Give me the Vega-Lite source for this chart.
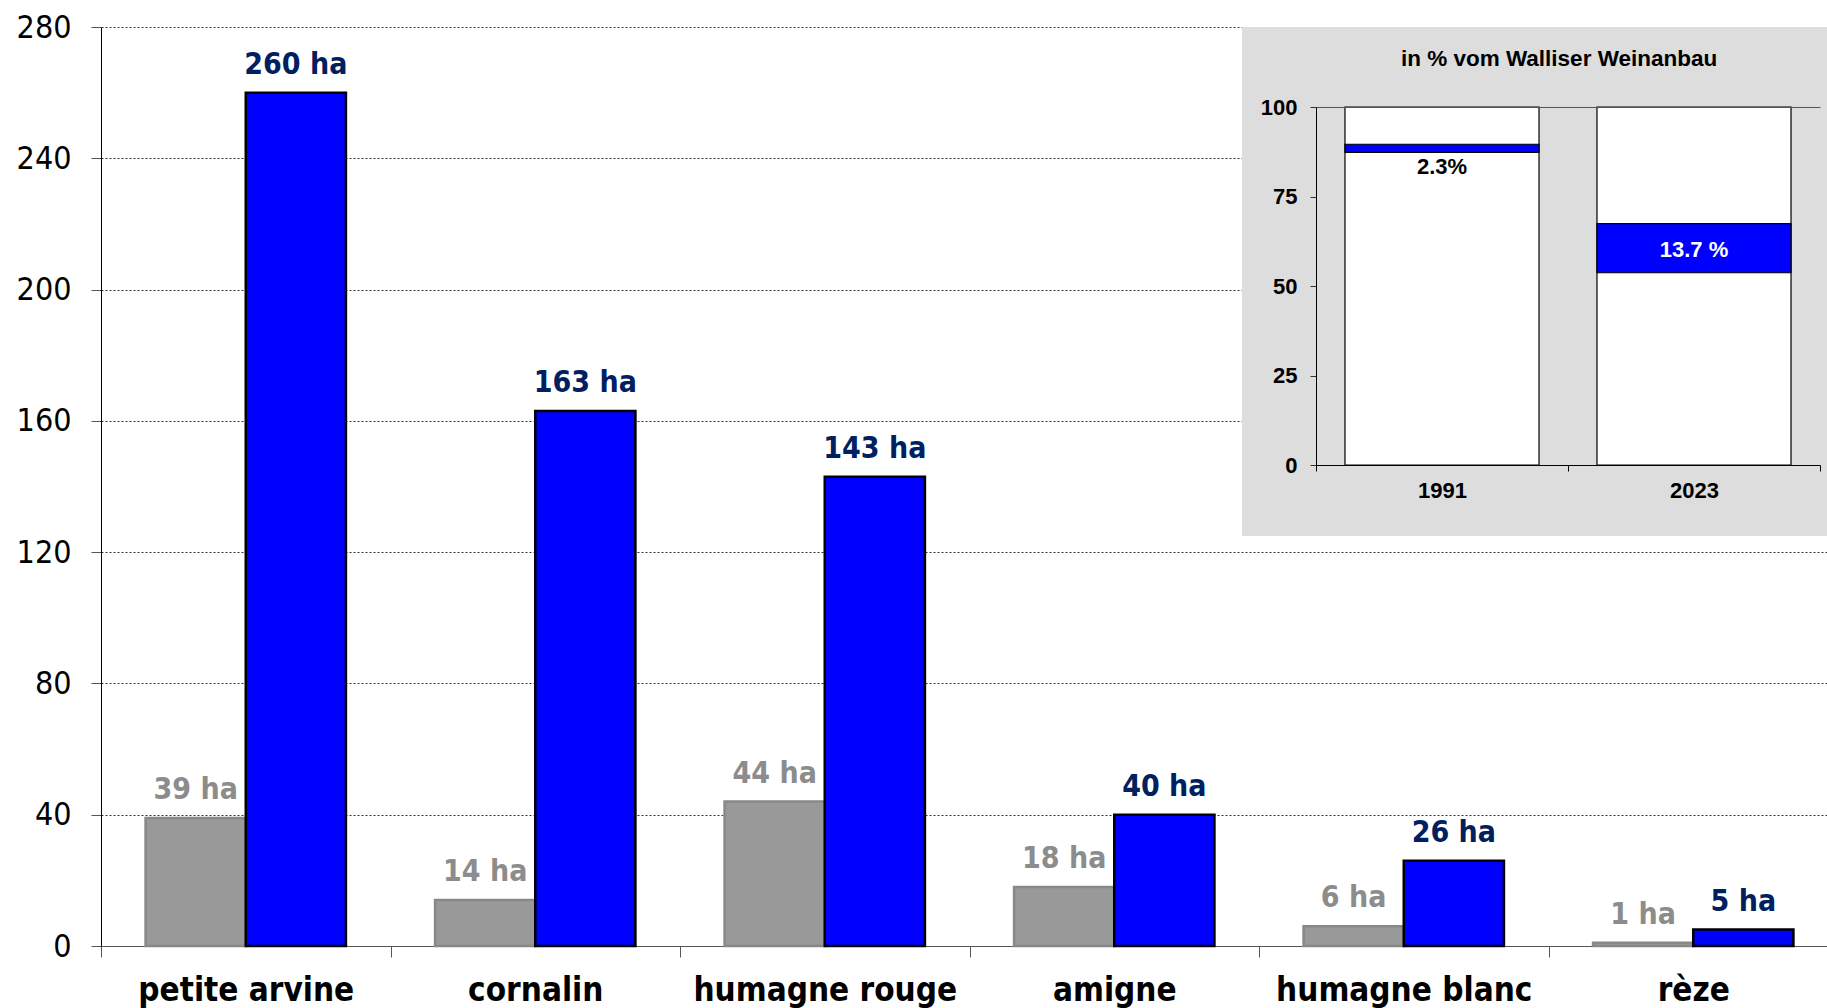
{
  "$schema": "https://vega.github.io/schema/vega-lite/v6.json",
  "width": 1726,
  "height": 919,
  "autosize": {"type": "none"},
  "padding": {"left": 101, "top": 27, "right": 0, "bottom": 62},
  "background": "white",
  "config": {"view": {"stroke": null}},
  "datasets": {
    "area": [
      {"variety": "petite arvine", "year": "1991", "ha": 39, "label": "39 ha"},
      {"variety": "petite arvine", "year": "2023", "ha": 260, "label": "260 ha"},
      {"variety": "cornalin", "year": "1991", "ha": 14, "label": "14 ha"},
      {"variety": "cornalin", "year": "2023", "ha": 163, "label": "163 ha"},
      {"variety": "humagne rouge", "year": "1991", "ha": 44, "label": "44 ha"},
      {"variety": "humagne rouge", "year": "2023", "ha": 143, "label": "143 ha"},
      {"variety": "amigne", "year": "1991", "ha": 18, "label": "18 ha"},
      {"variety": "amigne", "year": "2023", "ha": 40, "label": "40 ha"},
      {"variety": "humagne blanc", "year": "1991", "ha": 6, "label": "6 ha"},
      {"variety": "humagne blanc", "year": "2023", "ha": 26, "label": "26 ha"},
      {"variety": "rèze", "year": "1991", "ha": 1, "label": "1 ha"},
      {"variety": "rèze", "year": "2023", "ha": 5, "label": "5 ha"}
    ],
    "share": [
      {"year": "1991", "total": 100, "start": 87.3, "end": 89.6, "label": "2.3%"},
      {"year": "2023", "total": 100, "start": 53.7, "end": 67.4, "label": "13.7 %"}
    ],
    "panel": [{"panel": "inset", "title": "in % vom Walliser Weinanbau"}]
  },
  "layer": [
    {
      "data": {"name": "area"},
      "encoding": {
        "x": {
          "field": "variety", "type": "nominal", "sort": null,
          "scale": {"range": [0, 1737], "paddingInner": 0, "paddingOuter": 0},
          "axis": {
            "title": null, "labelAngle": 0, "labelFont": "DejaVu Sans Condensed", "labelFontSize": 33,
            "labelFontWeight": "bold", "labelColor": "black", "labelPadding": 17, "labelLimit": 0, "tickBand": "extent",
            "tickSize": 11, "tickColor": "#555555", "domainColor": "#555555", "grid": false
          }
        },
        "xOffset": {"field": "year", "type": "nominal", "scale": {"paddingInner": 0, "paddingOuter": 0.445}},
        "y": {
          "field": "ha", "type": "quantitative",
          "scale": {"domain": [0, 280], "nice": false},
          "axis": {
            "title": null, "values": [0, 40, 80, 120, 160, 200, 240, 280],
            "labelFont": "DejaVu Sans Condensed", "labelFontSize": 32, "labelColor": "black",
            "labelPadding": 20, "tickSize": 10, "tickColor": "#555555", "domainColor": "black",
            "grid": true, "gridDash": [2, 2], "gridColor": "#333333", "gridWidth": 1, "labelFlush": false
          }
        }
      },
      "layer": [
        {
          "mark": {"type": "bar", "strokeWidth": 2.5},
          "encoding": {
            "fill": {"condition": {"test": "datum.year === '1991'", "value": "#999999"}, "value": "#0000FF"},
            "stroke": {"condition": {"test": "datum.year === '1991'", "value": "#888888"}, "value": "#000000"}
          }
        },
        {
          "mark": {"type": "text", "baseline": "alphabetic", "dy": -19, "font": "DejaVu Sans Condensed", "fontSize": 30, "fontWeight": "bold"},
          "encoding": {
            "text": {"field": "label"},
            "color": {"condition": {"test": "datum.year === '1991'", "value": "#8C8C8C"}, "value": "#002060"}
          }
        }
      ]
    },
    {
      "data": {"name": "panel"},
      "layer": [
        {
          "mark": {"type": "rect", "fill": "#DDDDDD"},
          "encoding": {
            "x": {"field": "panel", "type": "nominal", "scale": {"range": [1141, 1726], "paddingInner": 0, "paddingOuter": 0}, "axis": null},
            "y": {"field": "panel", "type": "nominal", "scale": {"range": [0, 509], "paddingInner": 0, "paddingOuter": 0}, "axis": null}
          }
        },
        {
          "mark": {"type": "text", "font": "Liberation Sans", "fontSize": 22.5, "fontWeight": "bold", "color": "black", "align": "center", "baseline": "middle"},
          "encoding": {
            "x": {"field": "panel", "type": "nominal", "bandPosition": 0.542, "scale": {"range": [1141, 1726], "paddingInner": 0, "paddingOuter": 0}, "axis": null},
            "y": {"field": "panel", "type": "nominal", "bandPosition": 0.063, "scale": {"range": [0, 509], "paddingInner": 0, "paddingOuter": 0}, "axis": null},
            "text": {"field": "title"}
          }
        }
      ]
    },
    {
      "data": {"name": "share"},
      "encoding": {
        "x": {
          "field": "year", "type": "nominal",
          "scale": {"range": [1215, 1719], "paddingInner": 0, "paddingOuter": 0},
          "axis": {
            "orient": "bottom", "offset": -481, "zindex": 2, "title": null, "labelAngle": 0,
            "labelFont": "Liberation Sans", "labelFontSize": 22, "labelFontWeight": "bold", "labelColor": "black",
            "labelPadding": 9, "tickBand": "extent", "tickSize": 6, "tickColor": "black", "domainColor": "black", "grid": false
          }
        },
        "y": {
          "field": "total", "type": "quantitative",
          "scale": {"domain": [0, 100], "range": [438, 80], "nice": false},
          "axis": {
            "orient": "left", "offset": -1215, "zindex": 2, "title": null, "values": [0, 25, 50, 75, 100],
            "labelFont": "Liberation Sans", "labelFontSize": 22, "labelFontWeight": "bold", "labelColor": "black",
            "labelPadding": 13, "tickSize": 6, "tickColor": "#333333", "domainColor": "black", "labelFlush": false,
            "grid": true, "gridColor": "#555555", "gridDash": [],
            "gridOpacity": {"condition": {"test": "datum.value === 100", "value": 1}, "value": 0}
          }
        }
      },
      "layer": [
        {
          "mark": {"type": "bar", "fill": "white", "stroke": "black", "strokeWidth": 1.2, "width": {"band": 0.77}}
        },
        {
          "mark": {"type": "bar", "fill": "#0000FF", "stroke": "black", "strokeWidth": 1.2, "width": {"band": 0.77}},
          "encoding": {
            "y": {"field": "start", "type": "quantitative"},
            "y2": {"field": "end"}
          }
        },
        {
          "transform": [{"filter": "datum.year === '1991'"}],
          "mark": {"type": "text", "baseline": "top", "dy": 5, "font": "Liberation Sans", "fontSize": 22, "fontWeight": "bold", "color": "black"},
          "encoding": {
            "y": {"field": "start", "type": "quantitative"},
            "text": {"field": "label"}
          }
        },
        {
          "transform": [{"filter": "datum.year === '2023'"}],
          "mark": {"type": "text", "baseline": "middle", "dy": -23, "font": "Liberation Sans", "fontSize": 22, "fontWeight": "bold", "color": "white"},
          "encoding": {
            "y": {"field": "start", "type": "quantitative"},
            "text": {"field": "label"}
          }
        },
        {
          "data": {"name": "panel"},
          "mark": {"type": "rule", "color": "#555555", "strokeWidth": 1},
          "encoding": {
            "x": {"datum": "2023", "type": "nominal", "bandPosition": 1},
            "y": {"datum": 0, "type": "quantitative"},
            "y2": {"datum": 100}
          }
        }
      ]
    }
  ],
  "resolve": {
    "scale": {"x": "independent", "y": "independent"},
    "axis": {"x": "independent", "y": "independent"}
  }
}
